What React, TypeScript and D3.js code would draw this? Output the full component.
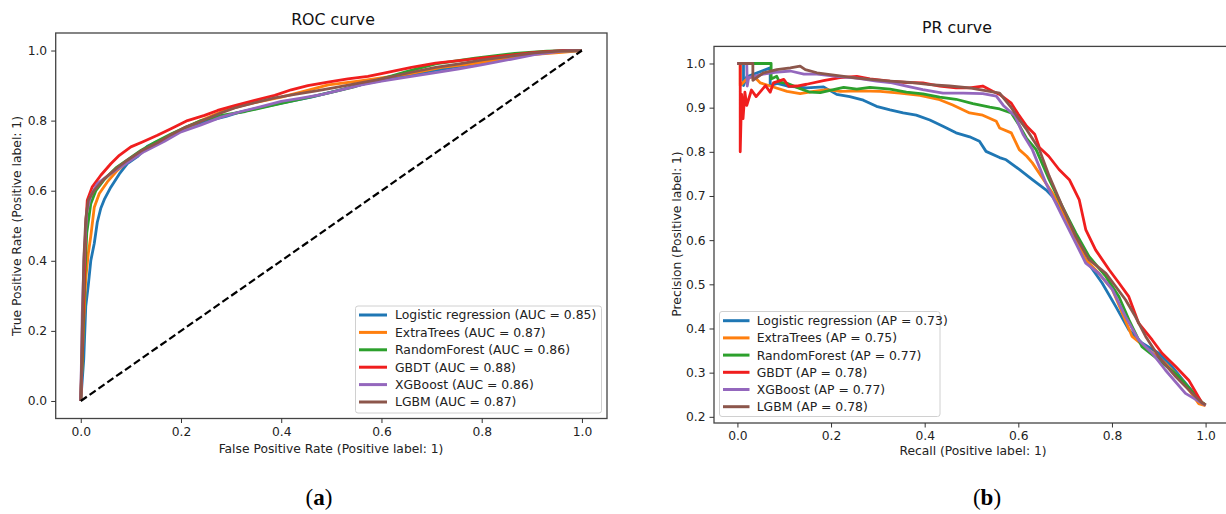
import React, { useEffect, useRef } from "react";
import * as d3 from "d3";

// models, in legend order
const modelNames = ["Logistic regression", "ExtraTrees", "RandomForest", "GBDT", "XGBoost", "LGBM"];
const modelColors = ["#1f77b4", "#ff7f0e", "#2ca02c", "#f01e1e", "#9467bd", "#8c564b"];
const aucValues = [0.85, 0.87, 0.86, 0.88, 0.86, 0.87];
const apValues = [0.73, 0.75, 0.77, 0.78, 0.77, 0.78];

const rocTicks = [0, 0.2, 0.4, 0.6, 0.8, 1.0];
const prXTicks = [0, 0.2, 0.4, 0.6, 0.8, 1.0];
const prYTicks = [0.2, 0.3, 0.4, 0.5, 0.6, 0.7, 0.8, 0.9, 1.0];

// ROC curves: [fpr, tpr]
const rocLR = [[0,0],[0.006,0.12],[0.01,0.27],[0.015,0.33],[0.02,0.4],[0.027,0.45],[0.033,0.51],[0.04,0.55],[0.047,0.575],[0.06,0.61],[0.077,0.648],[0.093,0.677],[0.113,0.697],[0.133,0.727],[0.16,0.745],[0.19,0.765],[0.217,0.784],[0.257,0.801],[0.29,0.812],[0.312,0.822],[0.36,0.838],[0.407,0.852],[0.462,0.868],[0.518,0.888],[0.565,0.905],[0.628,0.922],[0.692,0.94],[0.755,0.955],[0.818,0.97],[0.858,0.978],[0.889,0.988],[0.945,0.998],[1,1]];
const rocET = [[0,0],[0.005,0.2],[0.01,0.35],[0.015,0.42],[0.02,0.47],[0.027,0.553],[0.037,0.592],[0.053,0.625],[0.073,0.658],[0.093,0.682],[0.12,0.71],[0.15,0.735],[0.18,0.76],[0.21,0.78],[0.24,0.8],[0.281,0.826],[0.32,0.842],[0.352,0.853],[0.4,0.867],[0.439,0.881],[0.494,0.902],[0.55,0.912],[0.6,0.922],[0.66,0.935],[0.72,0.952],[0.78,0.962],[0.84,0.975],[0.9,0.988],[0.96,0.995],[1,1]];
const rocRF = [[0,0],[0.004,0.17],[0.008,0.35],[0.012,0.48],[0.02,0.563],[0.03,0.6],[0.047,0.632],[0.07,0.665],[0.093,0.688],[0.12,0.715],[0.15,0.74],[0.18,0.762],[0.21,0.782],[0.24,0.8],[0.281,0.815],[0.328,0.826],[0.391,0.846],[0.455,0.866],[0.51,0.884],[0.549,0.898],[0.597,0.918],[0.65,0.94],[0.708,0.962],[0.787,0.978],[0.866,0.992],[0.93,0.998],[1,1]];
const rocGBDT = [[0,0],[0.004,0.2],[0.007,0.345],[0.01,0.5],[0.013,0.573],[0.023,0.611],[0.04,0.644],[0.06,0.677],[0.077,0.701],[0.1,0.725],[0.123,0.739],[0.153,0.758],[0.18,0.777],[0.213,0.8],[0.247,0.815],[0.273,0.829],[0.307,0.843],[0.347,0.858],[0.387,0.872],[0.42,0.888],[0.453,0.9],[0.493,0.91],[0.533,0.919],[0.573,0.926],[0.6,0.934],[0.66,0.952],[0.708,0.964],[0.755,0.971],[0.802,0.979],[0.858,0.987],[0.905,0.995],[0.96,1],[1,1]];
const rocXGB = [[0,0],[0.003,0.25],[0.007,0.42],[0.012,0.54],[0.02,0.585],[0.033,0.62],[0.06,0.649],[0.093,0.68],[0.127,0.712],[0.167,0.741],[0.2,0.768],[0.24,0.788],[0.28,0.81],[0.32,0.826],[0.36,0.84],[0.4,0.855],[0.44,0.864],[0.48,0.874],[0.52,0.888],[0.56,0.902],[0.6,0.913],[0.66,0.926],[0.708,0.937],[0.755,0.948],[0.802,0.96],[0.858,0.975],[0.905,0.988],[0.96,0.998],[1,1]];
const rocLGBM = [[0,0],[0.003,0.2],[0.006,0.4],[0.01,0.52],[0.015,0.573],[0.027,0.601],[0.047,0.634],[0.073,0.666],[0.093,0.687],[0.12,0.713],[0.153,0.737],[0.18,0.76],[0.207,0.78],[0.24,0.798],[0.28,0.822],[0.307,0.836],[0.347,0.851],[0.387,0.865],[0.427,0.875],[0.467,0.884],[0.507,0.894],[0.547,0.905],[0.593,0.917],[0.66,0.938],[0.708,0.952],[0.755,0.962],[0.802,0.973],[0.858,0.984],[0.905,0.993],[0.96,0.999],[1,1]];

// PR curves: [recall, precision]
const prLR = [[0,1],[0.013,1],[0.013,0.95],[0.02,0.97],[0.07,0.99],[0.07,0.95],[0.085,0.955],[0.106,0.949],[0.148,0.945],[0.184,0.947],[0.212,0.93],[0.24,0.925],[0.269,0.917],[0.297,0.903],[0.326,0.895],[0.354,0.888],[0.382,0.883],[0.411,0.872],[0.439,0.858],[0.467,0.843],[0.496,0.834],[0.517,0.824],[0.531,0.801],[0.56,0.787],[0.574,0.782],[0.602,0.76],[0.63,0.737],[0.659,0.714],[0.673,0.699],[0.7,0.655],[0.723,0.608],[0.744,0.556],[0.779,0.503],[0.808,0.45],[0.836,0.397],[0.864,0.367],[0.9,0.344],[0.928,0.314],[0.957,0.276],[0.992,0.232],[1,0.226]];
const prET = [[0,1],[0.006,1],[0.006,0.95],[0.02,0.965],[0.035,0.971],[0.049,0.956],[0.07,0.949],[0.106,0.937],[0.134,0.932],[0.163,0.937],[0.191,0.941],[0.22,0.937],[0.262,0.938],[0.305,0.937],[0.347,0.933],[0.39,0.928],[0.432,0.918],[0.46,0.906],[0.496,0.888],[0.524,0.883],[0.553,0.869],[0.56,0.854],[0.585,0.843],[0.602,0.805],[0.618,0.79],[0.63,0.775],[0.659,0.729],[0.687,0.684],[0.709,0.631],[0.744,0.556],[0.772,0.525],[0.801,0.488],[0.822,0.435],[0.843,0.382],[0.879,0.351],[0.914,0.321],[0.95,0.283],[0.985,0.23],[1,0.225]];
const prRF = [[0,1],[0.072,1],[0.072,0.965],[0.084,0.971],[0.09,0.958],[0.106,0.955],[0.134,0.943],[0.155,0.935],[0.177,0.934],[0.198,0.939],[0.227,0.946],[0.255,0.942],[0.283,0.946],[0.326,0.942],[0.361,0.935],[0.396,0.931],[0.432,0.924],[0.467,0.919],[0.503,0.909],[0.539,0.901],[0.56,0.897],[0.585,0.888],[0.602,0.86],[0.618,0.83],[0.638,0.805],[0.666,0.737],[0.694,0.676],[0.723,0.616],[0.751,0.563],[0.787,0.518],[0.815,0.472],[0.836,0.42],[0.864,0.359],[0.9,0.329],[0.943,0.291],[0.992,0.233],[1,0.227]];
const prGBDT = [[0,1],[0.006,1],[0.006,0.8],[0.009,0.93],[0.012,0.875],[0.016,0.935],[0.02,0.905],[0.03,0.94],[0.04,0.925],[0.06,0.95],[0.07,0.935],[0.077,0.956],[0.099,0.964],[0.11,0.948],[0.127,0.949],[0.148,0.953],[0.184,0.961],[0.219,0.968],[0.255,0.971],[0.283,0.965],[0.326,0.96],[0.361,0.957],[0.396,0.956],[0.432,0.949],[0.467,0.945],[0.496,0.945],[0.524,0.949],[0.545,0.937],[0.56,0.93],[0.585,0.91],[0.6,0.885],[0.618,0.858],[0.635,0.84],[0.645,0.81],[0.665,0.79],[0.687,0.76],[0.709,0.737],[0.73,0.692],[0.744,0.624],[0.765,0.578],[0.794,0.533],[0.815,0.503],[0.836,0.472],[0.857,0.412],[0.886,0.374],[0.907,0.344],[0.936,0.314],[0.964,0.283],[0.992,0.232],[1,0.227]];
const prXGB = [[0,1],[0.02,1],[0.021,0.949],[0.024,0.968],[0.05,0.975],[0.08,0.98],[0.113,0.983],[0.142,0.976],[0.17,0.976],[0.212,0.971],[0.255,0.967],[0.297,0.96],[0.326,0.957],[0.361,0.949],[0.396,0.941],[0.439,0.933],[0.482,0.933],[0.524,0.932],[0.553,0.926],[0.568,0.905],[0.593,0.881],[0.61,0.84],[0.63,0.805],[0.659,0.729],[0.694,0.654],[0.723,0.593],[0.744,0.548],[0.772,0.525],[0.801,0.488],[0.829,0.427],[0.857,0.374],[0.886,0.344],[0.914,0.306],[0.957,0.253],[0.992,0.231],[1,0.226]];
const prLGBM = [[0,1],[0.033,1],[0.033,0.962],[0.056,0.979],[0.084,0.986],[0.113,0.99],[0.134,0.994],[0.145,0.986],[0.17,0.979],[0.198,0.975],[0.227,0.971],[0.255,0.967],[0.283,0.964],[0.326,0.96],[0.369,0.957],[0.411,0.952],[0.453,0.949],[0.496,0.945],[0.539,0.937],[0.56,0.933],[0.585,0.9],[0.602,0.873],[0.618,0.85],[0.645,0.805],[0.666,0.745],[0.694,0.676],[0.723,0.608],[0.751,0.556],[0.787,0.525],[0.829,0.465],[0.85,0.427],[0.872,0.382],[0.9,0.336],[0.936,0.291],[0.964,0.261],[0.992,0.232],[1,0.227]];

const rocCurves = [rocLR, rocET, rocRF, rocGBDT, rocXGB, rocLGBM];
const prCurves = [prLR, prET, prRF, prGBDT, prXGB, prLGBM];

const FONT = "DejaVu Sans, Verdana, sans-serif";

export default function App() {
  const ref = useRef(null);

  useEffect(() => {
    document.body.style.margin = "0";
    const svg = d3.select(ref.current);
    svg.selectAll("*").remove();

    const drawPanel = (cfg) => {
      const g = svg.append("g");
      const x = d3.scaleLinear().domain(cfg.xDomain).range(cfg.xRange);
      const y = d3.scaleLinear().domain(cfg.yDomain).range(cfg.yRange);
      const [x0, x1] = cfg.xRange;
      const [y1, y0] = cfg.yRange;

      const line = d3
        .line()
        .x((d) => x(d[0]))
        .y((d) => y(d[1]));

      // curves
      cfg.curves.forEach((c, i) => {
        g.append("path")
          .datum(c)
          .attr("d", line)
          .attr("fill", "none")
          .attr("stroke", modelColors[i])
          .attr("stroke-width", 2.8)
          .attr("stroke-linejoin", "round");
      });

      if (cfg.diagonal) {
        g.append("path")
          .datum([[0, 0], [1, 1]])
          .attr("d", line)
          .attr("fill", "none")
          .attr("stroke", "#000")
          .attr("stroke-width", 2.2)
          .attr("stroke-dasharray", "7.4 3.4");
      }

      // frame
      g.append("rect")
        .attr("x", x0)
        .attr("y", y0)
        .attr("width", x1 - x0)
        .attr("height", y1 - y0)
        .attr("fill", "none")
        .attr("stroke", "#444")
        .attr("stroke-width", 1.3);

      const xAxis = g
        .append("g")
        .attr("transform", `translate(0,${y1})`)
        .call(d3.axisBottom(x).tickValues(cfg.xTicks).tickFormat(d3.format(".1f")).tickSize(4.5).tickPadding(4));
      const yAxis = g
        .append("g")
        .attr("transform", `translate(${x0},0)`)
        .call(d3.axisLeft(y).tickValues(cfg.yTicks).tickFormat(d3.format(".1f")).tickSize(4.5).tickPadding(4));
      [xAxis, yAxis].forEach((a) => {
        a.select(".domain").remove();
        a.selectAll("line").attr("stroke", "#333");
        a.selectAll("text").attr("font-family", FONT).attr("font-size", 12.3).attr("fill", "#222");
      });

      // legend
      const L = cfg.legend;
      g.append("rect")
        .attr("x", L.x)
        .attr("y", L.y)
        .attr("width", L.w)
        .attr("height", L.h)
        .attr("rx", 2.5)
        .attr("fill", "#fff")
        .attr("fill-opacity", 0.8)
        .attr("stroke", "#d0d0d0");
      cfg.labels.forEach((lab, i) => {
        const cy = L.row0 + i * L.step;
        g.append("line")
          .attr("x1", L.hx0)
          .attr("x2", L.hx1)
          .attr("y1", cy)
          .attr("y2", cy)
          .attr("stroke", modelColors[i])
          .attr("stroke-width", 3);
        g.append("text")
          .attr("x", L.tx)
          .attr("y", cy)
          .attr("dy", "0.36em")
          .attr("font-family", FONT)
          .attr("font-size", 12.4)
          .attr("fill", "#222")
          .text(lab);
      });

      // titles
      g.append("text")
        .attr("x", cfg.title.x)
        .attr("y", cfg.title.y)
        .attr("text-anchor", "middle")
        .attr("font-family", FONT)
        .attr("font-size", 15.8)
        .attr("fill", "#111")
        .text(cfg.title.text);
      g.append("text")
        .attr("x", cfg.xLabel.x)
        .attr("y", cfg.xLabel.y)
        .attr("text-anchor", "middle")
        .attr("font-family", FONT)
        .attr("font-size", 12.3)
        .attr("fill", "#222")
        .text(cfg.xLabel.text);
      g.append("text")
        .attr("transform", `translate(${cfg.yLabel.x},${cfg.yLabel.y}) rotate(-90)`)
        .attr("text-anchor", "middle")
        .attr("font-family", FONT)
        .attr("font-size", 12.3)
        .attr("fill", "#222")
        .text(cfg.yLabel.text);

      // caption
      const cap = g
        .append("text")
        .attr("x", cfg.caption.x)
        .attr("y", cfg.caption.y)
        .attr("text-anchor", "middle")
        .attr("font-family", "Liberation Serif, Times New Roman, serif")
        .attr("font-size", 23)
        .attr("fill", "#000");
      cap.append("tspan").text("(");
      cap.append("tspan").attr("font-weight", "bold").text(cfg.caption.letter);
      cap.append("tspan").text(")");
    };

    drawPanel({
      xDomain: [-0.05, 1.05],
      xRange: [55.7, 607],
      yDomain: [-0.05, 1.05],
      yRange: [418.5, 33],
      xTicks: rocTicks,
      yTicks: rocTicks,
      curves: rocCurves,
      diagonal: true,
      labels: modelNames.map((n, i) => `${n} (AUC = ${aucValues[i].toFixed(2)})`),
      legend: { x: 355.5, y: 306, w: 246, h: 107, row0: 315, step: 17.4, hx0: 359, hx1: 387, tx: 395 },
      title: { text: "ROC curve", x: 333, y: 25 },
      xLabel: { text: "False Positive Rate (Positive label: 1)", x: 331, y: 453 },
      yLabel: { text: "True Positive Rate (Positive label: 1)", x: 20.5, y: 226 },
      caption: { letter: "a", x: 319, y: 505 },
    });

    drawPanel({
      xDomain: [-0.05, 1.05],
      xRange: [714, 1229],
      yDomain: [0.186, 1.0387],
      yRange: [423, 46.4],
      xTicks: prXTicks,
      yTicks: prYTicks,
      curves: prCurves,
      diagonal: false,
      labels: modelNames.map((n, i) => `${n} (AP = ${apValues[i].toFixed(2)})`),
      legend: { x: 719.5, y: 311.5, w: 220.5, h: 105, row0: 320.7, step: 17.2, hx0: 723, hx1: 749.5, tx: 756.7 },
      title: { text: "PR curve", x: 957, y: 33 },
      xLabel: { text: "Recall (Positive label: 1)", x: 973, y: 455 },
      yLabel: { text: "Precision (Positive label: 1)", x: 680.5, y: 234 },
      caption: { letter: "b", x: 987, y: 505 },
    });
  }, []);

  return (
    <div>
      <svg ref={ref} width={1226} height={514} style={{ display: "block", background: "#fff" }} />
    </div>
  );
}
